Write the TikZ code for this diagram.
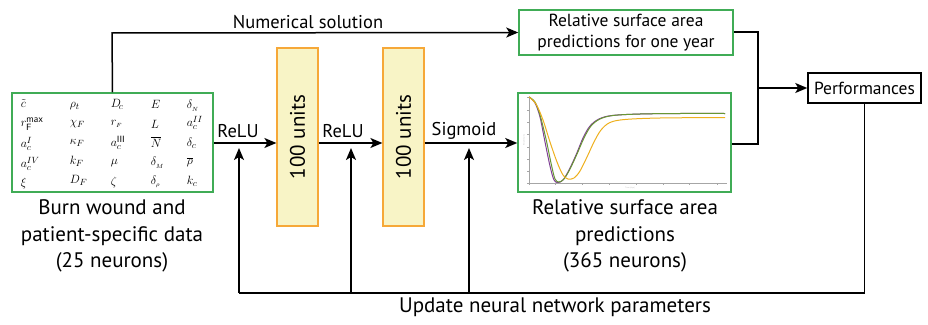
\documentclass[tikz,border=0pt]{standalone}
\usepackage{fontspec}
\setmainfont{PT Sans}
\usetikzlibrary{arrows.meta,calc}
\definecolor{gbox}{RGB}{64,172,86}
\definecolor{yel}{RGB}{248,244,198}
\definecolor{ora}{RGB}{246,168,56}
\definecolor{cpur}{RGB}{128,64,150}
\definecolor{cgrn}{RGB}{104,150,52}
\definecolor{cora}{RGB}{238,176,30}
\begin{document}
\begin{tikzpicture}[x=1pt,y=-1pt,line width=1.5pt,
  arr/.style={-{Stealth[length=12pt,width=10pt,inset=3pt]}},
  gbx/.style={draw=gbox,line width=1.5pt,inner sep=0pt},
  hid/.style={draw=ora,fill=yel,line width=1.2pt,minimum width=41pt,minimum height=178pt,inner sep=0pt},
  lbl/.style={font=\fontsize{18.5}{21}\selectfont,inner sep=1pt},
  big/.style={font=\fontsize{21}{26.5}\selectfont,align=center,inner sep=0pt},
  sym/.style={anchor=west,inner sep=0pt,font=\fontsize{13}{15}\selectfont}]
\useasboundingbox (0,0) rectangle (928,324);

% input box
\node[gbx,minimum width=201pt,minimum height=99pt] (inp) at (112.5,142.5) {};
\node[sym] (s11) at (20,104) {$\tilde{c}$};
\node[sym] (s12) at (69,106) {$\rho_t$};
\node[sym] (s13) at (110,104) {$D_{\!c}$};
\node[sym] (s14) at (150,104) {$E$};
\node[sym] (s15) at (186,106) {$\delta_{_N}$};
\node[sym] (s21) at (20,124) {$r_{\mathsf{F}}^{\max}$};
\node[sym] (s22) at (69,124) {$\chi_F$};
\node[sym] (s23) at (110,124) {$r_{_F}$};
\node[sym] (s24) at (150,124) {$L$};
\node[sym] (s25) at (186,123) {$a_c^{II}$};
\node[sym] (s31) at (20,144) {$a_c^{I}$};
\node[sym] (s32) at (69,143) {$\kappa_F$};
\node[sym] (s33) at (110,143) {$a_c^{\mathsf{III}}$};
\node[sym] (s34) at (150,142) {$\overline{N}$};
\node[sym] (s35) at (186,143) {$\delta_c$};
\node[sym] (s41) at (20,164) {$a_c^{IV}$};
\node[sym] (s42) at (69,161) {$k_F$};
\node[sym] (s43) at (110,163) {$\mu$};
\node[sym] (s44) at (150,163) {$\delta_{_M}$};
\node[sym] (s45) at (186,162) {$\overline{\rho}$};
\node[sym] (s51) at (20,183) {$\xi$};
\node[sym] (s52) at (69,180) {$D_F$};
\node[sym] (s53) at (110,182) {$\zeta$};
\node[sym] (s54) at (150,182) {$\delta_{_\rho}$};
\node[sym] (s55) at (186,181) {$k_c$};

\node[big] (inlbl) at (112,236) {Burn wound and\\patient-specific data\\(25 neurons)};

% hidden layers
\node[hid] (h1) at (297.5,137) {};
\node[hid] (h2) at (403.5,137) {};
\node[rotate=90,font=\fontsize{21}{24}\selectfont] (t1) at (h1) {100 units};
\node[rotate=90,font=\fontsize{21}{24}\selectfont] (t2) at (h2) {100 units};

% output box with graph
\node[gbx,minimum width=213pt,minimum height=99pt] (out) at (624.5,142.5) {};
\begin{scope}[line width=0.5pt]
  \draw[gray!70] (529,97) -- (529,183) -- (727,183);
  \foreach \yy in {97,110,122,134,147,159,171,183} \draw[gray!70] (527,\yy) -- (529,\yy);
  \foreach \xx in {529,555,582,609,636,663,689,717} \draw[gray!70] (\xx,183) -- (\xx,185);
  \node[gray!50,font=\fontsize{2}{2}\selectfont,inner sep=0pt] (xl) at (630,188) {Time (days)};
  \node[gray!50,rotate=90,font=\fontsize{2}{2}\selectfont,inner sep=0pt] (yl) at (524,140) {Relative area};
  \draw[cpur,line width=1pt] plot[smooth,tension=0.55] coordinates {(529,97) (535,103) (540,117) (545,142) (550,166) (554,180) (558,182.5) (563,180) (569,170) (576,155) (583,138) (590,126) (599,119) (612,115.5) (640,114) (680,113.5) (725,113.5)};
  \draw[cgrn,line width=1pt] plot[smooth,tension=0.55] coordinates {(529,97) (535,102) (540,115) (546,139) (551,163) (555,179) (559,182) (564,179) (570,169) (577,154) (584,138) (591,126) (600,119) (613,115.5) (640,114) (680,113.5) (725,113.5)};
  \draw[cora,line width=1pt] plot[smooth,tension=0.55] coordinates {(529,97) (536,104) (543,120) (550,142) (557,162) (563,175) (568,179) (574,178) (580,171) (587,157) (594,142) (601,130) (610,122.5) (625,119.5) (660,118) (725,117.5)};
\end{scope}
\node[big] (outlbl) at (625,236) {Relative surface area\\predictions\\(365 neurons)};

% one-year box
\node[gbx,minimum width=214pt,minimum height=45pt,align=center,font=\fontsize{17.5}{21}\selectfont] (year) at (626,32.5) {Relative surface area\\predictions for one year};

% performances
\node[draw,line width=1.5pt,minimum width=113pt,minimum height=30pt,inner sep=0pt,font=\fontsize{17.5}{19}\selectfont] (perf) at (864.5,88) {Performances};

% forward connectors
\coordinate (bt1) at (112,33);
\draw[arr] (inp.north) -- (bt1) -- (year.west);
\node[lbl] (num) at (308,22) {Numerical solution};
\draw[arr] (inp.east |- 0,143) -- (h1.west |- 0,143);
\draw[arr] (h1.east |- 0,143) -- (h2.west |- 0,143);
\draw[arr] (h2.east |- 0,143) -- (out.west |- 0,143);
\node[lbl] (r1) at (238,131) {ReLU};
\node[lbl] (r2) at (343,131) {ReLU};
\node[lbl] (sg) at (464,131) {Sigmoid};

% collecting bracket to performances
\coordinate (j1) at (758,32);
\coordinate (j2) at (758,144);
\coordinate (j3) at (758,88);
\draw (year.east |- j1) -- (j1) -- (j2) -- (out.east |- j2);
\draw[arr] (j3) -- (perf.west);

% feedback
\coordinate (f0) at (864.5,293);
\coordinate (f1) at (239,293);
\coordinate (f2) at (351,293);
\coordinate (f3) at (469,293);
\draw (perf.south) -- (f0) -- (f1);
\draw[arr] (f1) -- (239,148);
\draw[arr] (f2) -- (351,148);
\draw[arr] (f3) -- (469,148);
\node[font=\fontsize{21}{24}\selectfont,inner sep=0pt] (upd) at (555,307) {Update neural network parameters};
\end{tikzpicture}
\end{document}
